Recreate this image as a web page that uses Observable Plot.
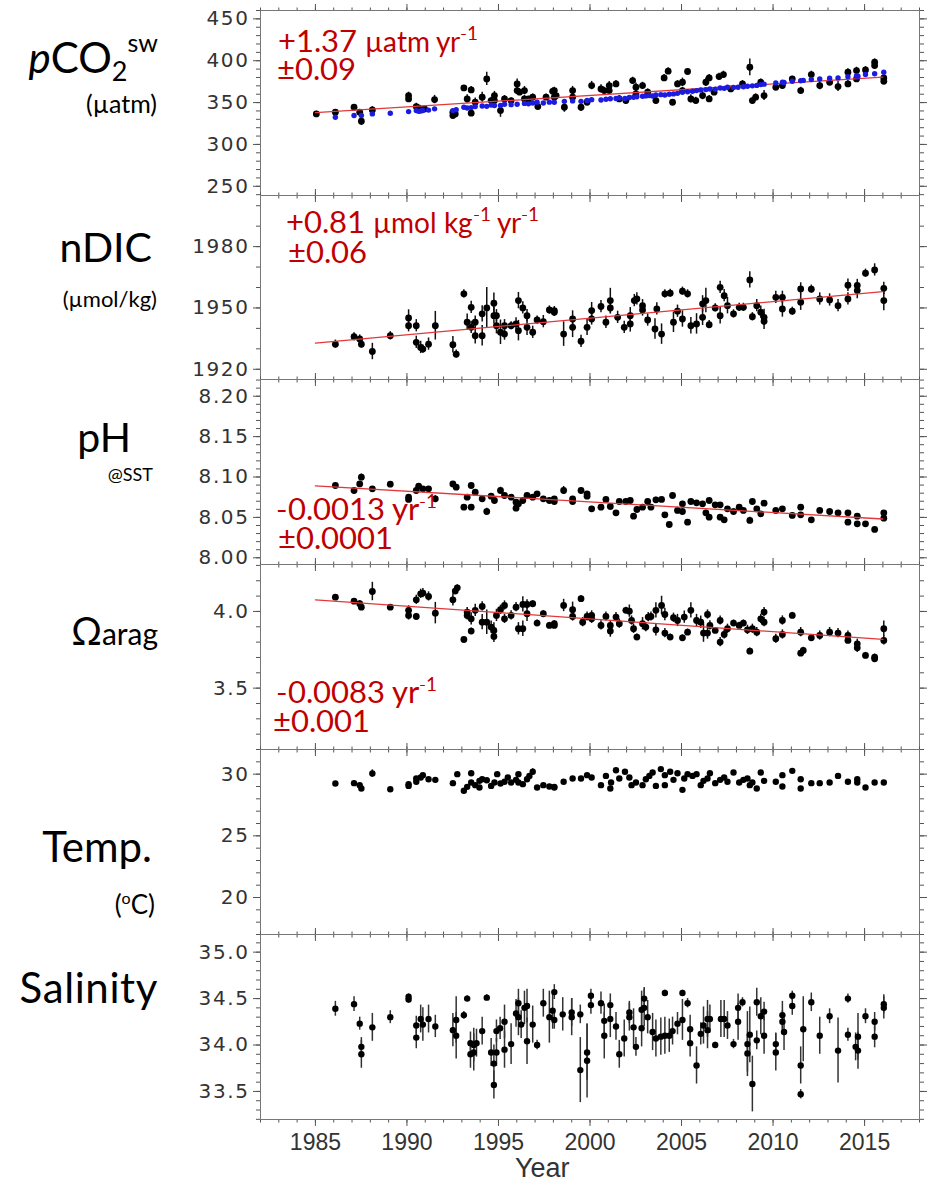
<!DOCTYPE html>
<html><head><meta charset="utf-8">
<script src="https://cdn.jsdelivr.net/npm/d3@7"></script>
<script src="https://cdn.jsdelivr.net/npm/@observablehq/plot@0.6"></script>
<style>
@font-face{font-family:"LatoTight";src:local("Lato"),local("Lato Regular"),local("Lato-Regular");ascent-override:74%;descent-override:16%;line-gap-override:0%;}
body{margin:0;background:#fff;}
#chart{position:relative;width:932px;height:1184px;overflow:hidden;background:#fff;}
g[aria-label="y-axis tick label"] text{letter-spacing:1.6px;}
#overlay{position:absolute;left:0;top:0;pointer-events:none;}
</style></head><body><div id="chart"></div>
<script>
// ---------- tick labels ----------
const xTickYears = [1985, 1990, 1995, 2000, 2005, 2010, 2015];
const pco2Ticks = [250, 300, 350, 400, 450];
const ndicTicks = [1920, 1950, 1980];
const phTicks = [8.00, 8.05, 8.10, 8.15, 8.20];
const omegaTicks = [3.5, 4.0];
const tempTicks = [20, 25, 30];
const salTicks = [33.5, 34.0, 34.5, 35.0];

// ---------- trend lines ----------
const pco2Trend = [[1985, 338.0], [2016, 380.5]];
const ndicTrend = [[1985, 1932.8], [2016, 1958.0]];
const phTrend = [[1985, 8.089], [2016, 8.048]];
const omegaTrend = [[1985, 4.076], [2016, 3.818]];

// ---------- observations [year, value, error] ----------
const pco2Obs = [
[1985.05,336.5,3],[1986.09,338.5,3],[1987.11,344.4,3],[1987.42,338.5,3],[1987.51,327.7,5],[1988.11,341.2,4],
[1990.09,358.4,4],[1990.09,354.4,4],[1990.51,345.2,4],[1990.64,343.6,3],[1990.96,342.4,3],[1991.51,353.6,5],
[1992.51,334.5,4],[1992.51,338.5,3],[1992.64,336.5,3],[1993.11,367.5,3],[1993.29,354.4,5],[1993.51,365.1,4],
[1993.51,337.3,3],[1993.73,350.4,5],[1994.11,356.4,6],[1994.36,378.3,8],[1994.6,352.4,4],[1994.78,358.4,5],
[1994.78,352.4,4],[1995.11,340.4,8],[1995.33,354.4,4],[1995.69,352.4,3],[1996.02,372.3,6],[1996.02,364.3,4],
[1996.15,362.4,4],[1996.42,364.3,5],[1996.42,354.4,4],[1996.64,354.4,3],[1996.87,356.4,4],[1997.15,345.2,3],
[1997.6,356.4,4],[1997.96,363.5,4],[1998.15,358.4,3],[1998.05,364.3,4],[1998.05,356.4,3],[1998.6,344.4,6],
[1999.05,364.3,5],[1999.05,356.4,4],[1999.51,344.4,5],[1999.84,350.4,4],[2000.09,370.3,5],[2000.6,366.3,5],
[2000.78,364.3,4],[2001.05,370.3,5],[2001.05,364.3,4],[2001.42,372.3,4],[2001.6,354.4,4],[2001.96,352.4,4],
[2002.33,376.3,4],[2002.51,368.3,5],[2002.51,360.4,4],[2002.87,370.3,4],[2003.15,362.4,4],[2003.6,352.4,4],
[2004.05,379.5,4],[2004.27,387.5,4],[2004.51,350.4,3],[2004.78,372.3,4],[2005.05,374.3,5],[2005.05,364.3,4],
[2005.33,387.1,3],[2005.51,354.4,5],[2005.78,352.4,4],[2006.15,358.4,5],[2006.33,374.3,5],[2006.51,379.5,4],
[2006.51,354.4,4],[2006.78,362.4,4],[2007.05,381.1,4],[2007.29,383.5,4],[2007.69,366.3,3],[2008.33,372.3,4],
[2008.73,392.2,10],[2008.87,352.4,4],[2009.05,356.4,4],[2009.33,374.3,4],[2009.51,358.4,6],[2010.15,368.3,4],
[2010.51,370.3,4],[2011.05,378.3,3],[2011.51,364.3,4],[2012.09,383.5,4],[2012.55,370.3,5],[2013.09,374.3,4],
[2013.55,369.1,6],[2014.09,386.3,4],[2014.09,372.3,4],[2014.56,388.2,4],[2014.56,378.3,4],[2015.05,389.0,4],
[2015.55,398.2,4],[2015.55,394.2,3],[2016.05,379.5,4],[2016.05,375.5,4]
];
const pco2Calc = [
[1986.09,332.5],[1987.11,334.5],[1987.51,334.5],[1988.11,336.5],[1989.09,337.3],[1990.09,339.2],[1990.51,340.4],
[1990.64,339.5],[1990.75,340.0],[1990.87,340.5],[1991.18,341.0],[1991.51,342.5],[1992.51,340.4],[1992.69,341.5],
[1993.11,344.4],[1993.29,343.5],[1993.51,344.0],[1993.73,345.2],[1994.11,346.0],[1994.36,345.5],[1994.6,347.0],
[1994.78,346.5],[1995.11,346.5],[1995.33,348.0],[1995.69,347.5],[1996.02,348.0],[1996.42,349.0],[1996.64,348.5],
[1996.87,349.5],[1997.11,350.5],[1997.45,349.5],[1997.78,350.5],[1998.05,350.4],[1998.6,351.5],[1999.05,352.0],
[1999.51,351.5],[1999.84,352.4],[2000.09,353.5],[2000.6,353.0],[2000.87,354.0],[2001.11,354.5],[2001.42,354.8],
[2001.6,355.5],[2001.91,355.0],[2002.15,356.0],[2002.38,356.4],[2002.56,357.0],[2002.87,357.5],[2003.05,358.0],
[2003.24,358.4],[2003.42,357.8],[2003.6,359.0],[2003.87,359.5],[2004.09,359.0],[2004.33,360.0],[2004.56,360.4],
[2004.78,361.0],[2005.05,362.4],[2005.33,363.0],[2005.6,363.5],[2005.82,364.3],[2006.05,365.0],[2006.33,365.5],
[2006.55,366.3],[2006.84,366.0],[2007.11,367.5],[2007.33,367.0],[2007.51,368.3],[2007.84,368.0],[2008.09,368.3],
[2008.38,369.0],[2008.6,369.5],[2008.87,370.0],[2009.11,370.5],[2009.33,371.5],[2009.51,372.0],[2010.15,373.5],
[2010.51,374.3],[2010.6,374.0],[2011.05,375.5],[2011.51,376.0],[2011.65,376.5],[2012.09,377.5],[2012.55,378.3],
[2013.09,379.0],[2013.55,379.5],[2014.09,381.0],[2014.56,382.0],[2014.64,381.5],[2015.05,383.5],[2015.55,384.5],
[2016.05,386.3]
];
const ndicObs = [
[1986.09,1932.3,2],[1987.11,1935.9,2],[1987.42,1934.8,2],[1987.51,1932.3,2],[1988.11,1928.7,4],[1989.09,1936.4,2],
[1990.09,1945.1,4],[1990.09,1941.3,3],[1990.51,1933.2,3],[1990.51,1941.3,3],[1990.75,1930.7,3],[1990.87,1929.9,2],
[1991.18,1932.3,3],[1991.55,1941.3,7],[1992.51,1932.0,4],[1992.69,1927.4,2],[1993.11,1956.9,2],[1993.29,1943.0,4],
[1993.51,1950.3,3],[1993.51,1940.5,3],[1993.73,1936.4,4],[1993.73,1943.0,3],[1994.11,1936.4,5],[1994.11,1947.1,4],
[1994.36,1950.0,10],[1994.75,1952.3,5],[1994.75,1946.2,4],[1994.89,1946.2,3],[1994.89,1941.3,4],[1995.11,1938.1,6],
[1995.33,1941.3,3],[1995.33,1937.2,3],[1995.69,1941.3,2],[1995.96,1942.2,3],[1996.09,1953.6,4],[1996.09,1938.9,5],
[1996.33,1950.0,3],[1996.56,1946.2,3],[1996.56,1940.5,4],[1996.87,1938.1,3],[1997.11,1944.1,2],[1997.45,1943.3,3],
[1997.78,1949.0,2],[1998.05,1948.7,2],[1998.05,1947.9,2],[1998.56,1937.2,6],[1999.05,1944.6,4],[1999.05,1940.5,5],
[1999.51,1933.7,3],[1999.84,1940.5,4],[2000.09,1948.7,4],[2000.09,1944.6,3],[2000.6,1950.7,3],[2000.87,1943.0,3],
[2001.11,1953.6,6],[2001.11,1950.0,3],[2001.51,1945.4,3],[2001.87,1940.5,3],[2002.2,1946.2,4],[2002.2,1942.2,4],
[2002.42,1953.6,3],[2002.56,1954.4,3],[2002.87,1951.1,3],[2002.87,1949.0,3],[2003.15,1944.1,3],[2003.55,1939.7,5],
[2003.65,1949.5,3],[2003.91,1937.2,5],[2004.09,1956.9,2],[2004.38,1957.2,2],[2004.56,1943.0,5],[2004.78,1948.4,3],
[2005.05,1958.2,2],[2005.05,1944.6,4],[2005.33,1956.9,2],[2005.51,1941.3,4],[2005.82,1942.2,5],[2006.15,1952.0,4],
[2006.15,1945.4,4],[2006.33,1953.6,6],[2006.51,1941.8,2],[2006.84,1950.0,2],[2007.11,1960.1,3],[2007.11,1946.2,4],
[2007.33,1956.0,3],[2007.51,1951.1,4],[2007.84,1947.1,2],[2008.15,1950.3,2],[2008.38,1950.3,2],[2008.73,1963.7,4],
[2008.87,1945.7,2],[2009.11,1951.1,3],[2009.33,1947.9,3],[2009.51,1945.4,4],[2009.51,1943.5,4],[2010.15,1955.2,3],
[2010.51,1955.2,3],[2010.51,1949.5,4],[2011.05,1948.4,2],[2011.51,1959.3,3],[2011.51,1952.8,4],[2012.09,1959.2,2],
[2012.55,1954.4,3],[2013.09,1953.9,3],[2013.55,1951.1,3],[2014.09,1961.1,3],[2014.09,1954.4,3],[2014.6,1961.0,3],
[2014.6,1958.5,4],[2015.05,1967.0,2],[2015.55,1968.6,3],[2016.05,1959.6,3],[2016.05,1953.6,5]
];
const phObs = [
[1986.09,8.0895,0.002],[1987.11,8.0833,0.002],[1987.42,8.0915,0.002],[1987.51,8.0998,0.004],[1988.11,8.0854,0.002],
[1989.09,8.0911,0.002],[1990.09,8.0750,0.003],[1990.09,8.0722,0.003],[1990.51,8.0833,0.003],[1990.64,8.0887,0.002],
[1990.87,8.0854,0.002],[1991.18,8.0854,0.002],[1991.55,8.0730,0.004],[1992.51,8.0915,0.003],[1992.69,8.0874,0.002],
[1993.11,8.0627,0.002],[1993.29,8.0750,0.003],[1993.51,8.0895,0.002],[1993.51,8.0627,0.003],[1993.73,8.0812,0.003],
[1994.11,8.0730,0.003],[1994.36,8.0573,0.004],[1994.6,8.0763,0.003],[1994.78,8.0709,0.003],[1995.11,8.0833,0.004],
[1995.33,8.0771,0.003],[1995.69,8.0750,0.002],[1995.96,8.0614,0.003],[1995.96,8.0689,0.003],[1996.09,8.0668,0.003],
[1996.33,8.0709,0.003],[1996.56,8.0771,0.003],[1996.87,8.0750,0.002],[1997.11,8.0792,0.002],[1997.45,8.0730,0.003],
[1997.78,8.0709,0.003],[1998.05,8.0697,0.002],[1998.05,8.0730,0.002],[1998.56,8.0833,0.005],[1999.05,8.0730,0.003],
[1999.05,8.0697,0.003],[1999.51,8.0833,0.003],[1999.84,8.0792,0.003],[1999.84,8.0763,0.003],[2000.09,8.0606,0.003],
[2000.6,8.0627,0.003],[2000.87,8.0722,0.002],[2001.11,8.0635,0.003],[2001.42,8.0557,0.002],[2001.6,8.0697,0.002],
[2001.96,8.0697,0.003],[2002.2,8.0709,0.003],[2002.38,8.0515,0.003],[2002.56,8.0598,0.003],[2002.87,8.0627,0.003],
[2003.15,8.0697,0.003],[2003.33,8.0627,0.003],[2003.6,8.0718,0.003],[2003.91,8.0722,0.002],[2004.09,8.0532,0.002],
[2004.33,8.0412,0.002],[2004.51,8.0771,0.002],[2004.78,8.0586,0.004],[2005.05,8.0668,0.003],[2005.05,8.0573,0.003],
[2005.33,8.0441,0.002],[2005.51,8.0697,0.003],[2005.82,8.0680,0.003],[2006.15,8.0668,0.003],[2006.33,8.0557,0.003],
[2006.51,8.0709,0.002],[2006.51,8.0503,0.003],[2006.84,8.0656,0.002],[2007.11,8.0656,0.002],[2007.11,8.0503,0.002],
[2007.33,8.0470,0.002],[2007.51,8.0606,0.002],[2007.84,8.0573,0.002],[2008.15,8.0627,0.002],[2008.38,8.0586,0.002],
[2008.73,8.0462,0.004],[2008.87,8.0697,0.002],[2009.11,8.0606,0.003],[2009.33,8.0544,0.002],[2009.51,8.0676,0.003],
[2010.15,8.0586,0.002],[2010.51,8.0606,0.002],[2011.05,8.0524,0.002],[2011.51,8.0627,0.002],[2011.51,8.0532,0.002],
[2012.09,8.0470,0.002],[2012.55,8.0586,0.003],[2013.09,8.0573,0.002],[2013.55,8.0557,0.002],[2014.09,8.0557,0.002],
[2014.09,8.0441,0.002],[2014.6,8.0515,0.002],[2014.6,8.0421,0.002],[2015.05,8.0421,0.002],[2015.55,8.0351,0.003],
[2016.05,8.0557,0.002],[2016.05,8.0491,0.002]
];
const omegaObs = [
[1986.09,4.093,0.01],[1987.11,4.067,0.01],[1987.42,4.050,0.02],[1987.51,4.028,0.02],[1988.11,4.130,0.06],[1989.09,4.028,0.01],
[1990.09,4.007,0.03],[1990.09,3.974,0.03],[1990.51,4.076,0.03],[1990.51,3.967,0.02],[1990.75,4.115,0.03],[1990.87,4.120,0.03],
[1991.18,4.098,0.03],[1991.55,3.989,0.07],[1992.51,4.076,0.04],[1992.64,4.133,0.02],[1992.75,4.154,0.02],[1993.11,3.817,0.01],
[1993.29,3.996,0.03],[1993.29,3.974,0.03],[1993.51,3.872,0.02],[1993.51,3.952,0.04],[1993.73,4.007,0.04],[1994.11,3.930,0.05],
[1994.11,4.033,0.03],[1994.36,3.930,0.08],[1994.6,3.898,0.04],[1994.75,3.876,0.05],[1994.75,3.837,0.04],[1994.89,3.974,0.04],
[1995.11,4.011,0.03],[1995.33,3.952,0.03],[1995.33,4.039,0.03],[1995.69,3.974,0.03],[1995.96,4.028,0.03],[1996.09,3.887,0.04],
[1996.33,3.887,0.05],[1996.33,4.046,0.05],[1996.56,3.985,0.05],[1996.56,4.046,0.03],[1996.87,4.050,0.02],[1997.11,3.924,0.02],
[1997.45,3.985,0.02],[1997.78,3.909,0.02],[1998.05,3.909,0.02],[1998.05,3.920,0.02],[1998.56,4.039,0.04],[1999.05,4.011,0.05],
[1999.05,3.967,0.03],[1999.51,4.083,0.02],[1999.6,3.930,0.03],[1999.84,3.967,0.03],[2000.09,3.974,0.03],[2000.09,3.952,0.03],
[2000.6,3.909,0.03],[2000.87,3.967,0.03],[2001.11,3.872,0.04],[2001.11,3.909,0.03],[2001.42,3.963,0.03],[2001.6,3.920,0.03],
[2001.96,4.007,0.02],[2002.15,4.002,0.04],[2002.27,3.941,0.03],[2002.38,3.887,0.03],[2002.56,3.833,0.02],[2002.87,3.920,0.04],
[2003.05,3.898,0.03],[2003.18,3.963,0.03],[2003.33,3.967,0.03],[2003.6,4.007,0.05],[2003.6,3.880,0.04],[2003.91,4.039,0.06],
[2004.09,3.980,0.04],[2004.09,3.859,0.03],[2004.38,3.833,0.02],[2004.56,3.959,0.03],[2004.78,3.941,0.04],[2005.05,3.828,0.02],
[2005.15,3.963,0.04],[2005.33,3.865,0.02],[2005.51,4.007,0.05],[2005.82,3.941,0.04],[2006.05,3.930,0.04],[2006.2,3.859,0.06],
[2006.42,3.859,0.04],[2006.42,3.980,0.03],[2006.55,3.909,0.03],[2006.84,3.876,0.02],[2007.11,3.800,0.03],[2007.11,3.941,0.03],
[2007.33,3.850,0.03],[2007.51,3.887,0.03],[2007.84,3.924,0.02],[2008.15,3.909,0.02],[2008.38,3.924,0.02],[2008.6,3.880,0.03],
[2008.73,3.741,0.02],[2008.87,3.887,0.03],[2009.11,3.865,0.03],[2009.33,3.952,0.03],[2009.51,3.996,0.03],[2009.51,3.930,0.03],
[2010.15,3.822,0.03],[2010.51,3.941,0.03],[2010.51,3.850,0.03],[2011.05,3.974,0.02],[2011.51,3.865,0.03],[2011.51,3.728,0.02],
[2011.65,3.746,0.02],[2012.09,3.828,0.02],[2012.55,3.843,0.03],[2013.09,3.865,0.03],[2013.55,3.859,0.03],[2014.09,3.843,0.03],
[2014.09,3.811,0.02],[2014.6,3.789,0.03],[2014.6,3.763,0.03],[2015.05,3.713,0.02],[2015.55,3.702,0.02],[2015.55,3.691,0.02],
[2016.05,3.887,0.05],[2016.05,3.811,0.03]
];
const tempObs = [
[1986.09,29.24,0.08],[1987.11,29.27,0.08],[1987.42,29.11,0.08],[1987.51,28.84,0.08],[1988.11,30.05,0.3],[1989.09,28.78,0.08],
[1990.09,29.05,0.08],[1990.09,29.19,0.08],[1990.51,29.38,0.1],[1990.51,29.65,0.1],[1990.75,29.73,0.1],[1990.87,29.92,0.1],
[1991.18,29.59,0.08],[1991.55,29.54,0.08],[1992.51,29.27,0.1],[1992.75,30.0,0.1],[1993.11,28.65,0.08],[1993.29,28.97,0.1],
[1993.51,29.32,0.1],[1993.51,30.08,0.15],[1993.73,29.11,0.1],[1993.96,29.46,0.1],[1993.96,28.92,0.1],[1994.11,29.59,0.15],
[1994.36,29.51,0.1],[1994.6,29.05,0.1],[1994.78,29.32,0.1],[1994.93,30.0,0.1],[1995.11,29.24,0.1],[1995.33,29.38,0.1],
[1995.51,29.73,0.1],[1995.69,29.32,0.1],[1995.96,29.54,0.1],[1996.09,30.0,0.1],[1996.09,29.32,0.1],[1996.33,29.19,0.1],
[1996.56,29.59,0.15],[1996.69,29.86,0.1],[1996.87,30.19,0.25],[1997.11,28.92,0.08],[1997.45,29.11,0.08],[1997.78,29.0,0.08],
[1998.05,28.92,0.08],[1998.05,28.97,0.08],[1998.56,29.38,0.08],[1999.05,29.65,0.08],[1999.51,29.65,0.08],[1999.84,29.92,0.08],
[2000.09,29.73,0.08],[2000.6,29.11,0.1],[2000.87,29.86,0.1],[2001.11,28.84,0.1],[2001.15,29.32,0.1],[2001.42,30.32,0.1],
[2001.6,29.65,0.1],[2001.91,30.19,0.1],[2002.15,29.73,0.1],[2002.27,29.11,0.1],[2002.51,29.32,0.1],[2002.87,29.11,0.1],
[2003.05,29.59,0.1],[2003.24,29.86,0.1],[2003.42,30.14,0.1],[2003.6,29.05,0.1],[2003.87,30.41,0.1],[2004.09,29.92,0.1],
[2004.09,29.11,0.1],[2004.38,30.19,0.1],[2004.56,29.54,0.1],[2004.78,30.08,0.1],[2005.05,28.73,0.1],[2005.15,29.65,0.1],
[2005.33,30.0,0.1],[2005.6,29.86,0.1],[2005.82,30.0,0.1],[2006.05,29.11,0.1],[2006.2,29.46,0.1],[2006.42,29.65,0.1],
[2006.55,30.08,0.1],[2006.84,29.27,0.1],[2007.11,29.54,0.1],[2007.33,29.73,0.1],[2007.51,29.38,0.1],[2007.84,30.14,0.1],
[2008.15,29.32,0.1],[2008.38,29.54,0.1],[2008.6,29.65,0.1],[2008.73,29.11,0.1],[2008.87,29.32,0.1],[2009.11,28.84,0.1],
[2009.33,30.14,0.15],[2009.51,29.46,0.1],[2010.15,29.38,0.1],[2010.51,29.92,0.1],[2010.51,29.0,0.1],[2011.05,30.27,0.1],
[2011.51,29.59,0.1],[2011.51,28.84,0.1],[2012.09,29.27,0.1],[2012.55,29.27,0.1],[2013.09,29.32,0.1],[2013.55,29.86,0.1],
[2014.09,29.38,0.1],[2014.6,29.59,0.1],[2014.6,29.32,0.1],[2015.05,28.92,0.1],[2015.55,29.32,0.1],[2016.05,29.32,0.1]
];
const salObs = [
[1986.09,34.39,0.08],[1987.11,34.44,0.08],[1987.42,34.23,0.07],[1987.51,33.90,0.15],[1987.51,33.98,0.1],[1988.11,34.19,0.15],
[1989.09,34.30,0.07],[1990.09,34.52,0.03],[1990.09,34.49,0.04],[1990.51,34.08,0.12],[1990.51,34.21,0.1],[1990.75,34.28,0.15],
[1990.87,34.22,0.18],[1991.18,34.28,0.15],[1991.55,34.20,0.12],[1992.51,34.16,0.18],[1992.69,34.10,0.25],[1992.69,34.27,0.25],
[1993.11,34.32,0.04],[1993.29,34.50,0.03],[1993.47,33.90,0.15],[1993.47,34.02,0.12],[1993.65,33.92,0.2],[1993.65,34.00,0.18],
[1993.8,34.02,0.15],[1994.11,34.15,0.15],[1994.36,34.51,0.03],[1994.6,33.92,0.15],[1994.75,33.80,0.2],[1994.75,33.57,0.15],
[1994.89,33.92,0.15],[1994.89,34.15,0.12],[1995.09,34.18,0.12],[1995.33,33.95,0.2],[1995.33,34.25,0.18],[1995.69,34.01,0.22],
[1995.96,34.34,0.15],[1996.09,34.45,0.15],[1996.09,34.30,0.2],[1996.24,34.22,0.15],[1996.42,34.40,0.18],[1996.56,34.42,0.18],
[1996.56,34.04,0.25],[1996.87,34.22,0.2],[1997.11,34.00,0.05],[1997.45,34.45,0.15],[1997.78,34.30,0.28],[1997.96,34.37,0.2],
[1998.05,34.57,0.08],[1998.05,34.27,0.1],[1998.51,34.33,0.18],[1999.0,34.30,0.2],[1999.0,34.35,0.15],[1999.47,34.33,0.1],
[1999.47,33.73,0.35],[1999.84,33.83,0.4],[1999.84,33.92,0.3],[2000.05,34.53,0.07],[2000.05,34.43,0.1],[2000.6,34.45,0.12],
[2000.78,34.26,0.18],[2000.78,34.10,0.25],[2001.11,34.43,0.12],[2001.11,34.28,0.2],[2001.42,34.20,0.15],[2001.6,33.90,0.15],
[2001.87,34.07,0.2],[2002.15,34.35,0.12],[2002.15,34.30,0.15],[2002.38,34.19,0.2],[2002.51,33.98,0.1],[2002.82,34.18,0.2],
[2002.82,34.38,0.2],[2002.96,34.50,0.12],[2002.96,34.40,0.2],[2003.15,34.30,0.18],[2003.42,34.14,0.2],[2003.6,34.07,0.2],
[2003.87,34.09,0.2],[2004.09,34.56,0.03],[2004.09,34.10,0.2],[2004.33,34.10,0.18],[2004.51,34.15,0.15],[2004.78,34.23,0.12],
[2005.05,34.56,0.03],[2005.05,34.27,0.22],[2005.33,34.45,0.05],[2005.47,34.02,0.15],[2005.47,34.17,0.15],[2005.82,33.78,0.2],
[2006.05,34.12,0.12],[2006.2,34.21,0.2],[2006.42,34.16,0.2],[2006.42,34.28,0.2],[2006.55,34.28,0.15],[2006.84,34.00,0.03],
[2007.15,34.28,0.2],[2007.33,34.28,0.2],[2007.51,34.21,0.15],[2007.84,34.01,0.05],[2008.09,34.40,0.15],[2008.09,34.25,0.2],
[2008.33,34.46,0.05],[2008.6,34.01,0.35],[2008.6,33.91,0.2],[2008.73,34.11,0.3],[2008.87,33.58,0.3],[2009.11,34.46,0.15],
[2009.11,34.05,0.1],[2009.33,34.31,0.2],[2009.51,34.36,0.1],[2009.51,34.10,0.2],[2010.15,33.92,0.2],[2010.15,34.01,0.12],
[2010.51,34.32,0.15],[2010.51,34.25,0.12],[2010.6,34.14,0.2],[2011.05,34.53,0.05],[2011.05,34.42,0.1],[2011.51,33.78,0.2],
[2011.51,33.47,0.05],[2011.65,34.17,0.35],[2012.09,34.46,0.1],[2012.55,34.10,0.2],[2013.09,34.31,0.08],[2013.55,33.94,0.35],
[2014.09,34.50,0.05],[2014.09,34.11,0.07],[2014.51,33.98,0.15],[2014.64,34.09,0.25],[2014.64,33.94,0.2],[2015.05,34.31,0.08],
[2015.55,34.25,0.1],[2015.55,34.09,0.12],[2016.05,34.44,0.1],[2016.05,34.40,0.12]
];

// ---------- drawing ----------
const X_DOMAIN = [1982, 2018];
const xMinor = d3.range(1982, 2019);
const tickColor = "#555";
const chart = document.getElementById("chart");
const blank = () => "";

function obsMarks(data, r = 3.4, errStroke = "#111") {
  return [
    Plot.ruleX(data, {x: d => d[0], y1: d => d[1] - d[2], y2: d => d[1] + d[2], stroke: errStroke, strokeWidth: 1.5}),
    Plot.dot(data, {x: d => d[0], y: d => d[1], r, fill: "#000", stroke: "none"})
  ];
}
function trendMark(t) {
  return Plot.line(t, {x: d => d[0], y: d => d[1], stroke: "#e2383a", strokeWidth: 1.3});
}

function panel({top, height, marginTop = 0, marginBottom = 0, yDomain, yMajor, yMinor, yFormat, marks, showX = false}) {
  const p = Plot.plot({
    width: 932, height, marginLeft: 260, marginRight: 13, marginTop, marginBottom,
    x: {domain: X_DOMAIN},
    y: {domain: yDomain},
    style: {background: "transparent", overflow: "visible", position: "absolute", left: "0px", top: top + "px", color: "#333"},
    marks: [
      Plot.axisY(yMinor, {anchor: "left", tickSize: 4, tickFormat: blank, label: null, stroke: tickColor}),
      Plot.axisY(yMajor, {anchor: "left", tickSize: 7, tickPadding: 4, tickFormat: yFormat, label: null, stroke: tickColor,
        fill: "#333", fontSize: 20, fontFamily: "DejaVu Sans"}),
      Plot.axisY(yMinor, {anchor: "right", tickSize: 4, tickFormat: blank, label: null, stroke: tickColor}),
      Plot.axisY(yMajor, {anchor: "right", tickSize: 7, tickFormat: blank, label: null, stroke: tickColor}),
      Plot.axisX(xMinor, {anchor: "top", tickSize: 3.5, tickFormat: blank, label: null, stroke: tickColor}),
      Plot.axisX(xTickYears, {anchor: "top", tickSize: 7, tickFormat: blank, label: null, stroke: tickColor}),
      Plot.axisX(xMinor, {anchor: "bottom", tickSize: 3.5, tickFormat: blank, label: null, stroke: tickColor}),
      Plot.axisX(xTickYears, {anchor: "bottom", tickSize: 7, tickPadding: 7, label: null, stroke: tickColor,
        tickFormat: showX ? (d => String(d)) : blank, fill: "#333", fontSize: 23, fontFamily: "Liberation Sans, Arial"}),
      Plot.frame({stroke: "#777", strokeWidth: 1}),
      ...marks
    ]
  });
  chart.appendChild(p);
}

const f2 = d3.format(".2f"), f1 = d3.format(".1f"), f0 = d => String(d);

panel({top: 0, height: 195, marginTop: 10, yDomain: [239, 460], yMajor: pco2Ticks,
  yMinor: d3.range(240, 461, 10), yFormat: f0,
  marks: [...obsMarks(pco2Obs), trendMark(pco2Trend),
    Plot.dot(pco2Calc, {x: d => d[0], y: d => d[1], r: 2.7, fill: "#1c1ce0", stroke: "none"})]});
panel({top: 195, height: 184, yDomain: [1915, 2005], yMajor: ndicTicks,
  yMinor: d3.range(1920, 2001, 10), yFormat: f0,
  marks: [...obsMarks(ndicObs), trendMark(ndicTrend)]});
panel({top: 379, height: 185, yDomain: [7.9917, 8.2207], yMajor: phTicks,
  yMinor: d3.range(800, 823).map(i => i / 100), yFormat: f2,
  marks: [...obsMarks(phObs), trendMark(phTrend)]});
panel({top: 564, height: 185, yDomain: [3.1, 4.306], yMajor: omegaTicks,
  yMinor: d3.range(31, 44).map(i => i / 10), yFormat: f1,
  marks: [...obsMarks(omegaObs), trendMark(omegaTrend)]});
panel({top: 749, height: 185, yDomain: [17, 32], yMajor: tempTicks,
  yMinor: d3.range(17, 33), yFormat: f0,
  marks: [...obsMarks(tempObs, 3.2)]});
panel({top: 934, height: 250, marginBottom: 65, yDomain: [33.198, 35.19], yMajor: salTicks,
  yMinor: d3.range(332, 352).map(i => i / 10), yFormat: f1, showX: true,
  marks: [...obsMarks(salObs, 3.2, "#333")]});

// ---------- text overlay: row labels, trend annotations, x title ----------
const overlay = `
<svg id="overlay" width="932" height="1184" xmlns="http://www.w3.org/2000/svg" font-family="Lato, 'Open Sans', sans-serif">
 <g fill="#000">
  <text x="158" y="73" text-anchor="end" font-size="42"><tspan font-style="italic">p</tspan>CO<tspan font-size="27" dy="8">2</tspan><tspan font-size="25" dy="-29">sw</tspan></text>
  <text x="157" y="113" text-anchor="end" font-size="25">(µatm)</text>
  <text x="152" y="262" text-anchor="end" font-size="41">nDIC</text>
  <text x="157" y="307" text-anchor="end" font-size="22">(µmol/kg)</text>
  <text x="131" y="452" text-anchor="end" font-size="41">pH</text>
  <text x="153" y="481" text-anchor="end" font-size="18">@SST</text>
  <text x="158" y="645" text-anchor="end" font-size="38">Ω<tspan font-size="30">arag</tspan></text>
  <text x="152" y="862" text-anchor="end" font-size="42">Temp.</text>
  <text x="155" y="914" text-anchor="end" font-size="26">(<tspan font-size="16" dy="-10">o</tspan><tspan dy="10">C)</tspan></text>
  <text x="158" y="1003" text-anchor="end" font-size="42" letter-spacing="0.6">Salinity</text>
 </g>
 <g fill="#c00000" font-family="LatoTight, Lato, sans-serif">
  <text font-size="31"><tspan x="278" y="52">+1.37 </tspan><tspan font-size="28">µatm yr</tspan><tspan font-size="19" dy="-12">-1</tspan><tspan x="277" y="80">±0.09</tspan></text>
  <text font-size="31"><tspan x="286" y="233">+0.81 </tspan><tspan font-size="28">µmol kg</tspan><tspan font-size="19" dy="-12">-1</tspan><tspan font-size="28" dy="12"> yr</tspan><tspan font-size="19" dy="-12">-1</tspan><tspan x="288" y="263">±0.06</tspan></text>
  <text font-size="31"><tspan x="276" y="520">-0.0013 yr</tspan><tspan font-size="19" dy="-12">-1</tspan><tspan x="278" y="549">±0.0001</tspan></text>
  <text font-size="31"><tspan x="276" y="703">-0.0083 yr</tspan><tspan font-size="19" dy="-12">-1</tspan><tspan x="273" y="732">±0.001</tspan></text>
 </g>
 <text x="515" y="1177" font-family="'Liberation Sans', Arial, sans-serif" font-size="27" fill="#333">Year</text>
</svg>`;
chart.insertAdjacentHTML("beforeend", overlay);
</script></body></html>
